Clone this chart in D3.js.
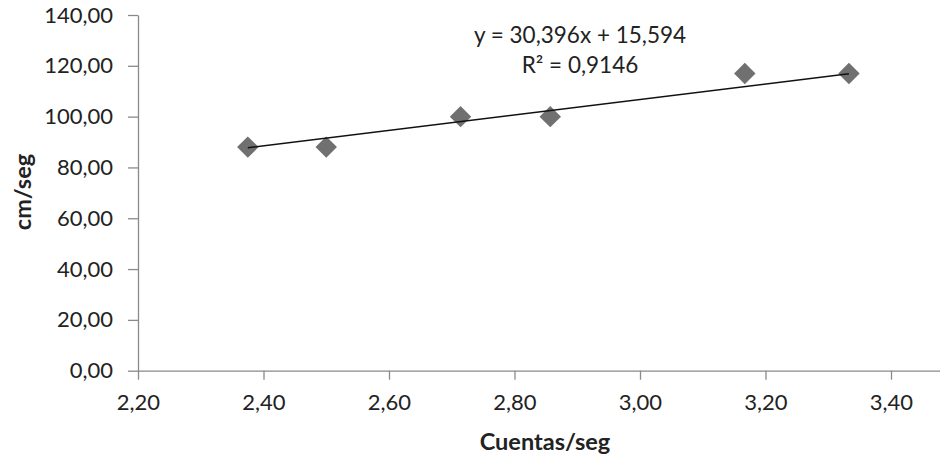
<!DOCTYPE html>
<html>
<head>
<meta charset="utf-8">
<script src="https://cdn.jsdelivr.net/npm/d3@7/dist/d3.min.js"></script>
<style>
  html, body { margin: 0; padding: 0; background: #fff; }
  svg { display: block; }
  text { font-family: Lato, "Open Sans", sans-serif; fill: #222; }
</style>
</head>
<body>
<svg id="chart" width="940" height="460"></svg>
<script>
// Measurements: counts per second vs. speed
const cuentasSeg = [2.375, 2.5, 2.714, 2.857, 3.167, 3.333];
const cmSeg = [88, 88, 100, 100, 117, 117];

// Linear trendline coefficients and fit quality
const slope = 30.396;
const intercept = 15.594;
const r2 = 0.9146;

// Axis ticks
const xTicks = [2.2, 2.4, 2.6, 2.8, 3.0, 3.2, 3.4];
const yTicks = [0, 20, 40, 60, 80, 100, 120, 140];

const fmt = (d, n) => d.toFixed(n).replace(".", ",");

const svg = d3.select("#chart");
const plotLeft = 138, plotTop = 15, plotBottom = 370.7;
const pxPerX = (891 - 138) / 1.2;

// x axis runs on past the last labelled tick to 3,60
const x = d3.scaleLinear().domain([2.2, 3.6]).range([plotLeft, plotLeft + pxPerX * 1.4]);
const y = d3.scaleLinear().domain([0, 140]).range([plotBottom, plotTop]);

const axisColor = "#8a8a8a";

const gx = svg.append("g")
  .attr("transform", `translate(0,${plotBottom})`)
  .call(d3.axisBottom(x).tickValues(xTicks).tickSize(9).tickPadding(15)
    .tickSizeOuter(0).tickFormat(d => fmt(d, 2)));

const gy = svg.append("g")
  .attr("transform", `translate(${plotLeft},0)`)
  .call(d3.axisLeft(y).tickValues(yTicks).tickSize(10).tickPadding(15)
    .tickSizeOuter(0).tickFormat(d => fmt(d, 2)));

[gx, gy].forEach(g => {
  g.selectAll("path.domain").attr("stroke", axisColor).attr("stroke-width", 1.3);
  g.selectAll(".tick line").attr("stroke", axisColor).attr("stroke-width", 1.3);
  g.selectAll(".tick text")
    .style("font-family", "Lato, 'Open Sans', sans-serif")
    .style("font-size", "22px")
    .attr("fill", "#222");
});

// Diamond markers
const diamond = d3.symbol().type(d3.symbolSquare).size(230);
svg.append("g").selectAll("path")
  .data(cuentasSeg.map((v, i) => [v, cmSeg[i]]))
  .join("path")
  .attr("d", diamond)
  .attr("transform", d => `translate(${x(d[0])},${y(d[1])}) rotate(45)`)
  .attr("fill", "#707070");

// Trendline across the measured range, drawn over the markers
const x0 = d3.min(cuentasSeg), x1 = d3.max(cuentasSeg);
svg.append("line")
  .attr("x1", x(x0)).attr("y1", y(slope * x0 + intercept))
  .attr("x2", x(x1)).attr("y2", y(slope * x1 + intercept))
  .attr("stroke", "#111").attr("stroke-width", 1.5);

// Equation label
svg.append("text")
  .attr("x", 580).attr("y", 43)
  .attr("text-anchor", "middle")
  .style("font-size", "22.5px")
  .text(`y = ${fmt(slope, 3)}x + ${fmt(intercept, 3)}`);

svg.append("text")
  .attr("x", 580).attr("y", 73)
  .attr("text-anchor", "middle")
  .style("font-size", "22.5px")
  .text(`R² = ${fmt(r2, 4)}`);

// Axis titles
svg.append("text")
  .attr("x", 545).attr("y", 450)
  .attr("text-anchor", "middle")
  .style("font-size", "23.5px").style("font-weight", "bold")
  .text("Cuentas/seg");

svg.append("text")
  .attr("transform", "translate(31,192) rotate(-90)")
  .attr("text-anchor", "middle")
  .style("font-size", "23.5px").style("font-weight", "bold")
  .text("cm/seg");
</script>
</body>
</html>
